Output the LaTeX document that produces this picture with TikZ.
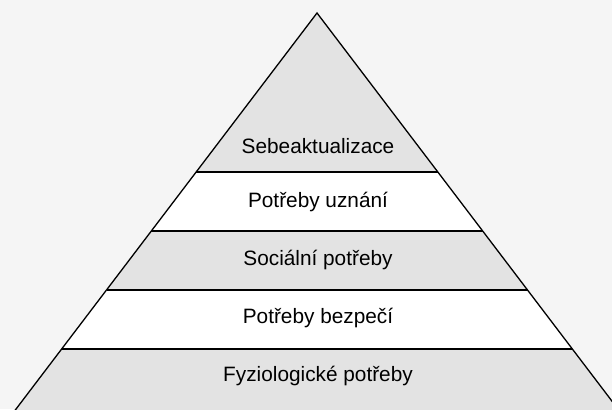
\documentclass[tikz,border=0pt]{standalone}
\usepackage{fontspec}
\setmainfont{Liberation Sans}
\definecolor{bgc}{HTML}{F5F5F5}
\definecolor{bandgray}{HTML}{E3E3E3}
\tikzset{
  band/.style={fill=bandgray, draw=none},
  whiteband/.style={fill=white, draw=none},
  edge/.style={draw=black, line width=1.3pt, line join=miter},
  lvl/.style={font=\fontsize{20.8}{24}\selectfont, text=black, inner sep=0pt, anchor=center}
}
\begin{document}
\begin{tikzpicture}[x=1pt,y=-1pt]
\useasboundingbox (0,0) rectangle (612,409);
\fill[bgc] (0,0) rectangle (612,409);
\begin{scope}
\clip (0,0) rectangle (612,409);
% bands (top to bottom)
\fill[band] (317,13) -- (437.8,172) -- (196.2,172) -- cycle;
\fill[whiteband] (196.2,172) -- (437.8,172) -- (482.7,231) -- (151.3,231) -- cycle;
\fill[band] (151.3,231) -- (482.7,231) -- (527.5,290) -- (106.5,290) -- cycle;
\fill[whiteband] (106.5,290) -- (527.5,290) -- (572.4,349) -- (61.6,349) -- cycle;
\fill[band] (61.6,349) -- (572.4,349) -- (626.3,420) -- (7.7,420) -- cycle;
% outline
\coordinate (apex) at (317,13);
\coordinate (bl) at (7.7,420);
\coordinate (br) at (626.3,420);
\draw[edge] (bl) -- (apex) -- (br);
\coordinate (l1) at (196.2,172); \coordinate (r1) at (437.8,172);
\coordinate (l2) at (151.3,231); \coordinate (r2) at (482.7,231);
\coordinate (l3) at (106.5,290); \coordinate (r3) at (527.5,290);
\coordinate (l4) at (61.6,349);  \coordinate (r4) at (572.4,349);
\draw[edge] (l1) -- (r1);
\draw[edge] (l2) -- (r2);
\draw[edge] (l3) -- (r3);
\draw[edge] (l4) -- (r4);
\end{scope}
\node[lvl] (sa) at (318,146) {Sebeaktualizace};
\node[lvl] (un) at (318,202) {Potřeby uznání};
\node[lvl] (so) at (318,260) {Sociální potřeby};
\node[lvl] (bz) at (318,318) {Potřeby bezpečí};
\node[lvl] (fy) at (318,376) {Fyziologické potřeby};
\end{tikzpicture}
\end{document}
